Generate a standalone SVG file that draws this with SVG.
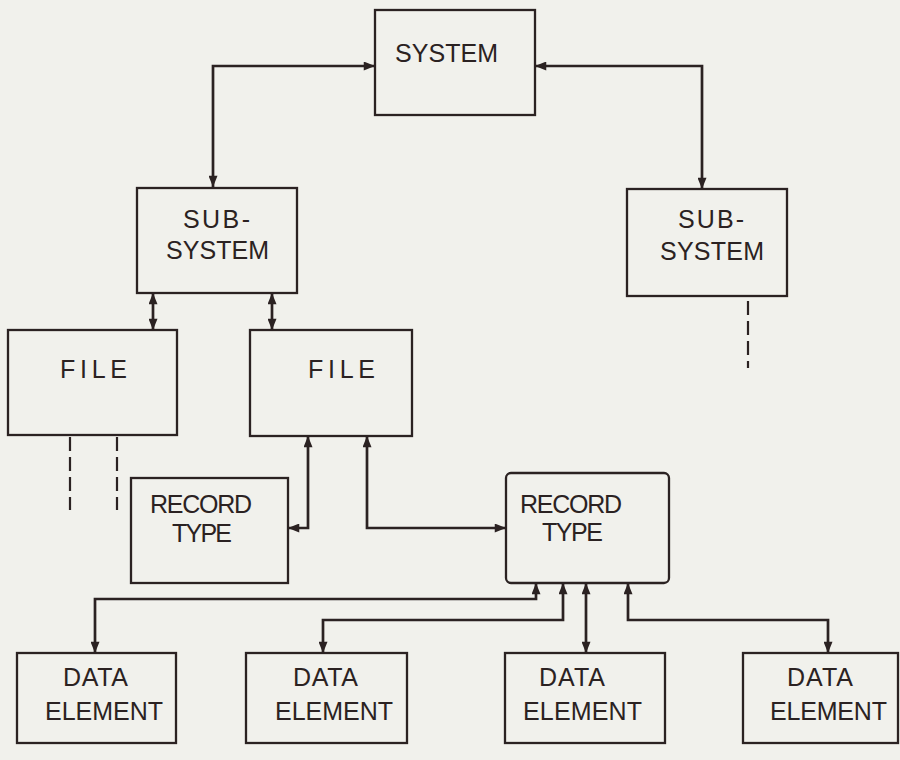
<svg xmlns="http://www.w3.org/2000/svg" width="900" height="760" viewBox="0 0 900 760">
<style>
.box{fill:none;stroke:#2b2222;stroke-width:2.3}
.t{font-family:"Liberation Sans Narrow","Liberation Sans","DejaVu Sans",sans-serif;font-size:25px;fill:#2b2222}
.c{fill:none;stroke:#2b2222;stroke-width:2.7;marker-start:url(#ah);marker-end:url(#ah)}
.d{fill:none;stroke:#2b2222;stroke-width:2.2;stroke-dasharray:14 6}
</style>
<defs>
<marker id="ah" viewBox="0 0 10 8" refX="10" refY="4" markerWidth="12" markerHeight="9" markerUnits="userSpaceOnUse" orient="auto-start-reverse">
<path d="M0,0 L10,4 L0,8 Z" fill="#2b2222"/>
</marker>
</defs>
<rect width="900" height="760" fill="#f1f1ec"/>
<g id="system"><rect class="box" x="375" y="10" width="160" height="105"/><text class="t" x="395" y="62" textLength="103" lengthAdjust="spacing">SYSTEM</text></g>
<g id="subsystem1"><rect class="box" x="137" y="188" width="160" height="105"/><text class="t" x="183" y="228" textLength="67" lengthAdjust="spacing">SUB-</text><text class="t" x="166" y="259" textLength="103" lengthAdjust="spacing">SYSTEM</text></g>
<g id="subsystem2"><rect class="box" x="627" y="189" width="160" height="107"/><text class="t" x="678" y="228" textLength="66" lengthAdjust="spacing">SUB-</text><text class="t" x="660" y="260" textLength="104" lengthAdjust="spacing">SYSTEM</text></g>
<g id="file1"><rect class="box" x="8" y="330" width="169" height="105"/><text class="t" x="60" y="378" textLength="67" lengthAdjust="spacing">FILE</text></g>
<g id="file2"><rect class="box" x="250" y="330" width="162" height="106"/><text class="t" x="308" y="378" textLength="67" lengthAdjust="spacing">FILE</text></g>
<g id="record1"><rect class="box" x="131" y="478" width="157" height="105"/><text class="t" x="150" y="513" textLength="102" lengthAdjust="spacing">RECORD</text><text class="t" x="172" y="542" textLength="60" lengthAdjust="spacing">TYPE</text></g>
<g id="record2"><rect class="box" x="506" y="473" width="163" height="110" rx="5"/><text class="t" x="520" y="513" textLength="102" lengthAdjust="spacing">RECORD</text><text class="t" x="542" y="541" textLength="61" lengthAdjust="spacing">TYPE</text></g>
<g id="de1"><rect class="box" x="17" y="653" width="159" height="90"/><text class="t" x="63" y="686" textLength="65" lengthAdjust="spacing">DATA</text><text class="t" x="45" y="720" textLength="118" lengthAdjust="spacing">ELEMENT</text></g>
<g id="de2"><rect class="box" x="246" y="653" width="161" height="90"/><text class="t" x="293" y="686" textLength="65" lengthAdjust="spacing">DATA</text><text class="t" x="275" y="720" textLength="118" lengthAdjust="spacing">ELEMENT</text></g>
<g id="de3"><rect class="box" x="505" y="653" width="160" height="90"/><text class="t" x="539" y="686" textLength="66" lengthAdjust="spacing">DATA</text><text class="t" x="523" y="720" textLength="119" lengthAdjust="spacing">ELEMENT</text></g>
<g id="de4"><rect class="box" x="743" y="653" width="155" height="90"/><text class="t" x="787" y="686" textLength="66" lengthAdjust="spacing">DATA</text><text class="t" x="770" y="720" textLength="117" lengthAdjust="spacing">ELEMENT</text></g>
<g id="connectors">
<path class="c" d="M213,187 L213,66 L375,66"/>
<path class="c" d="M535,66 L702,66 L702,189"/>
<path class="c" d="M153,293 L153,330"/>
<path class="c" d="M272,293 L272,330"/>
<path class="c" d="M308,436 L308,528 L288,528"/>
<path class="c" d="M367,436 L367,528 L506,528"/>
<path class="c" d="M536,583 L536,599 L95,599 L95,653"/>
<path class="c" d="M563,583 L563,620 L323,620 L323,653"/>
<path class="c" d="M586,583 L586,653"/>
<path class="c" d="M628,583 L628,620 L828,620 L828,653"/>
<path class="d" d="M70,437 L70,510"/>
<path class="d" d="M117,437 L117,510"/>
<path class="d" d="M748,301 L748,368"/>
</g>
</svg>
